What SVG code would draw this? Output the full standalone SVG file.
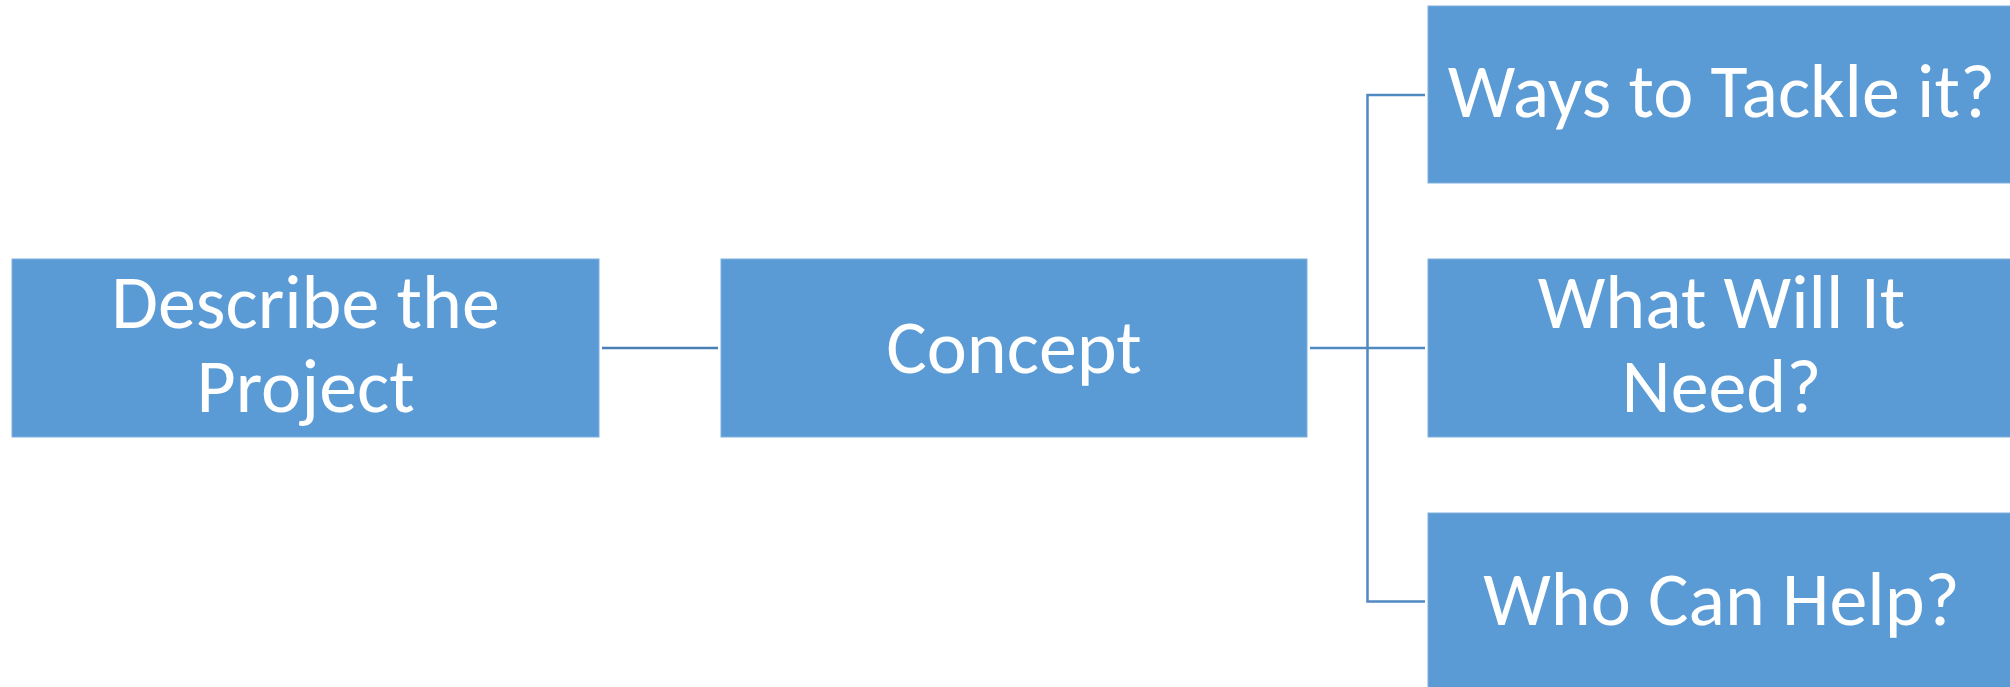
<svg xmlns="http://www.w3.org/2000/svg" width="2010" height="687" viewBox="0 0 2010 687">
<style>
.box{fill:#5B9BD5;stroke:#7EB0E0;stroke-width:1}
.lbl{fill:#FFFFFF;font-family:Carlito,Lato,"Open Sans",sans-serif;font-size:76px;text-anchor:middle}
.conn{stroke:#4F89C2;stroke-width:2.5;fill:none}
</style>
<rect width="2010" height="687" fill="#FFFFFF"/>
<g id="connectors">
<line class="conn" x1="602" y1="348" x2="718" y2="348" style="stroke:#4A7FB3"/>
<line class="conn" x1="1310" y1="348" x2="1425" y2="348"/>
<polyline class="conn" points="1425,95 1367.5,95 1367.5,601.5 1425,601.5"/>
</g>
<g id="describe">
<rect class="box" x="12" y="259" width="587" height="178"/>
<text class="lbl" x="305.5" y="328">Describe the</text>
<text class="lbl" x="305.5" y="412">Project</text>
</g>
<g id="concept">
<rect class="box" x="721" y="259" width="586" height="178"/>
<text class="lbl" x="1014" y="373">Concept</text>
</g>
<g id="ways">
<rect class="box" x="1428" y="6" width="590" height="177"/>
<text class="lbl" x="1721.5" y="117">Ways to Tackle it?</text>
</g>
<g id="need">
<rect class="box" x="1428" y="259" width="590" height="178"/>
<text class="lbl" x="1721.5" y="328">What Will It</text>
<text class="lbl" x="1721.5" y="412">Need?</text>
</g>
<g id="help">
<rect class="box" x="1428" y="513" width="590" height="180"/>
<text class="lbl" x="1721.5" y="625">Who Can Help?</text>
</g>
</svg>
